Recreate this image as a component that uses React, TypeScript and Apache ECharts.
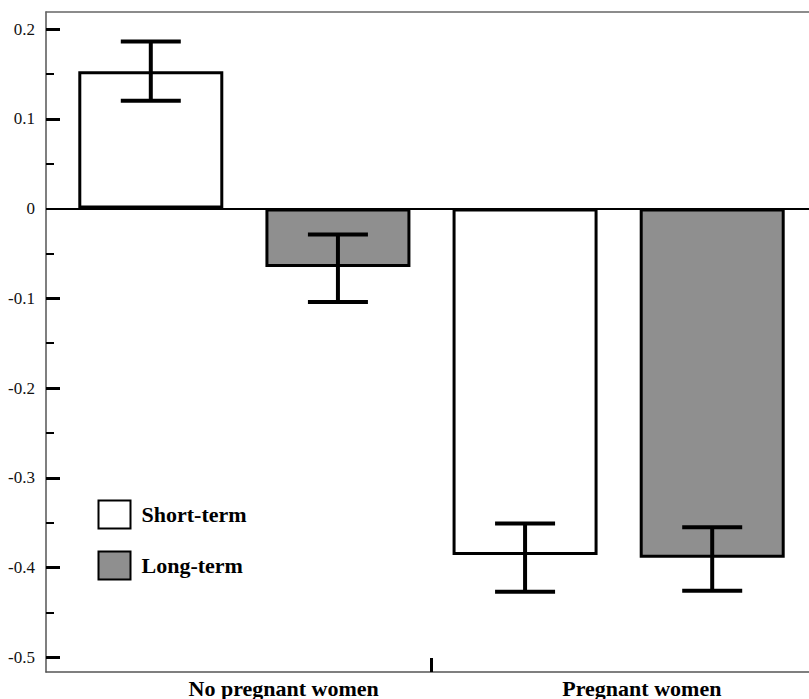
import React, { useEffect, useRef } from "react";
import * as echarts from "echarts";

const categories = ["No pregnant women", "Pregnant women"];
const seriesNames = ["Short-term", "Long-term"];
const shortTerm = [0.153, -0.386];
const longTerm = [-0.065, -0.389];
const shortLow = [0.12, -0.427];
const shortHigh = [0.186, -0.351];
const longLow = [-0.104, -0.426];
const longHigh = [-0.029, -0.355];
const yTickLabels = [-0.5, -0.4, -0.3, -0.2, -0.1, 0, 0.1, 0.2];
const yMajorTicks = [-0.5, -0.4, -0.3, -0.2, -0.1, 0.1, 0.2];
const yMinorTicks = [-0.45, -0.35, -0.25, -0.15, -0.05, 0.05, 0.15];
const groupBoundaries = [0.5];
const categoryLabelPositions = [0.105, 1.062];

const FONT = "'Liberation Serif', 'DejaVu Serif', serif";
const SLOT = 0.25;

export default function App() {
  const ref = useRef<HTMLDivElement>(null);
  useEffect(() => {
    if (!ref.current) return;
    const chart = echarts.init(ref.current, null, { renderer: "svg" });
    const errStyle = { stroke: "#000", lineWidth: 4 };
    const errData = [
      ...shortTerm.map((_, i) => [i - SLOT, shortLow[i], shortHigh[i]]),
      ...longTerm.map((_, i) => [i + SLOT, longLow[i], longHigh[i]]),
    ];
    chart.setOption({
      animation: false,
      backgroundColor: "#fff",
      grid: { left: 46, top: 12, width: 771, height: 660, outerBoundsMode: "none", containLabel: false },
      legend: {
        data: seriesNames.map((n) => ({ name: n, icon: "rect" })),
        orient: "vertical",
        left: 97.5,
        top: 499.5,
        padding: 0,
        itemWidth: 32,
        itemHeight: 28,
        itemGap: 21,
        selectedMode: false,
        textStyle: { fontFamily: FONT, fontWeight: "bold", fontSize: 22, color: "#000", padding: [0, 0, 0, 6] },
      },
      xAxis: [
        {
          type: "value",
          min: -0.53,
          max: 1.53,
          position: "bottom",
          splitLine: { show: false },
          axisLine: { show: true, onZero: false, lineStyle: { color: "#555", width: 1.5 } },
          axisTick: { show: true, inside: true, length: 14, customValues: groupBoundaries, lineStyle: { color: "#000", width: 3 } },
          axisLabel: {
            show: true,
            customValues: categoryLabelPositions,
            margin: 5,
            formatter: (v: number) => categories[Math.round(v)] ?? "",
            fontFamily: FONT,
            fontWeight: "bold",
            fontSize: 22,
            color: "#000",
          },
        },
        {
          type: "value",
          min: -0.53,
          max: 1.53,
          position: "top",
          splitLine: { show: false },
          axisLine: { show: true, onZero: false, lineStyle: { color: "#666", width: 1.5 } },
          axisTick: { show: false },
          axisLabel: { show: false },
        },
      ],
      yAxis: [
        {
          type: "value",
          min: -0.5164,
          max: 0.219,
          position: "left",
          splitLine: { show: false },
          axisLine: { show: true, onZero: false, lineStyle: { color: "#555", width: 1.5 } },
          axisTick: { show: true, inside: true, length: 14, customValues: yMajorTicks, lineStyle: { color: "#000", width: 3 } },
          axisLabel: {
            show: true,
            customValues: yTickLabels,
            margin: 11,
            formatter: (v: number) => String(Math.round(v * 10) / 10),
            fontFamily: FONT,
            fontSize: 17,
            color: "#111",
          },
        },
        {
          type: "value",
          min: -0.5164,
          max: 0.219,
          position: "left",
          splitLine: { show: false },
          axisLine: { show: false, onZero: false },
          axisTick: { show: true, inside: true, length: 8, customValues: yMinorTicks, lineStyle: { color: "#000", width: 2 } },
          axisLabel: { show: false },
        },
      ],
      series: [
        {
          name: seriesNames[0],
          type: "bar",
          xAxisIndex: 0,
          yAxisIndex: 0,
          barWidth: 145,
          barGap: "-100%",
          data: shortTerm.map((v, i) => [i - SLOT, v]),
          itemStyle: { color: "#ffffff", borderColor: "#000", borderWidth: 3 },
          markLine: {
            silent: true,
            symbol: "none",
            label: { show: false },
            lineStyle: { color: "#000", width: 2, type: "solid" },
            data: [{ yAxis: 0 }],
          },
        },
        {
          name: seriesNames[1],
          type: "bar",
          xAxisIndex: 0,
          yAxisIndex: 0,
          barWidth: 145,
          barGap: "-100%",
          data: longTerm.map((v, i) => [i + SLOT, v]),
          itemStyle: { color: "#8f8f8f", borderColor: "#000", borderWidth: 3 },
        },
        {
          name: "error",
          type: "custom",
          xAxisIndex: 0,
          yAxisIndex: 0,
          z: 5,
          encode: { x: 0, y: [1, 2] },
          data: errData,
          renderItem: (params: any, api: any) => {
            const x = api.value(0);
            const pLo = api.coord([x, api.value(1)]);
            const pHi = api.coord([x, api.value(2)]);
            const hw = 30;
            return {
              type: "group",
              children: [
                { type: "line", shape: { x1: pLo[0], y1: pLo[1], x2: pHi[0], y2: pHi[1] }, style: errStyle },
                { type: "line", shape: { x1: pLo[0] - hw, y1: pLo[1], x2: pLo[0] + hw, y2: pLo[1] }, style: errStyle },
                { type: "line", shape: { x1: pHi[0] - hw, y1: pHi[1], x2: pHi[0] + hw, y2: pHi[1] }, style: errStyle },
              ],
            };
          },
        },
      ],
    });
    return () => chart.dispose();
  }, []);
  return <div ref={ref} style={{ width: 809, height: 699, position: "absolute", left: 0, top: 0 }} />;
}
